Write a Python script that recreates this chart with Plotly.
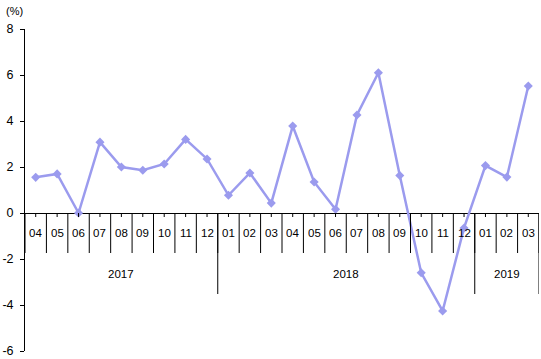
import plotly.graph_objects as go

months = ["04", "05", "06", "07", "08", "09", "10", "11", "12",
          "01", "02", "03", "04", "05", "06", "07", "08", "09", "10", "11", "12",
          "01", "02", "03"]
years = ["2017", "2018", "2019"]
year_counts = [9, 12, 3]
values = [1.55, 1.7, 0.0, 3.08, 2.0, 1.86, 2.13, 3.2, 2.35,
          0.77, 1.74, 0.43, 3.78, 1.35, 0.16, 4.26, 6.1, 1.63, -2.6, -4.26, -0.65,
          2.06, 1.56, 5.52]
y_ticks = [-6, -4, -2, 0, 2, 4, 6, 8]
y_tick_labels = ["-6", "-4", "-2", "0", "2", "4", "6", "8"]

FONT = "Arial, Liberation Sans, sans-serif"
x = list(range(len(months)))

fig = go.Figure()
fig.add_trace(go.Scatter(
    x=x, y=values, mode="lines+markers",
    line=dict(color="#9b9bee", width=2.5),
    marker=dict(symbol="diamond", size=7, color="#9b9bee"),
    hoverinfo="y", showlegend=False,
))

shapes = []
annotations = []
for i, m in enumerate(months):
    shapes.append(dict(type="line", xref="x", yref="y", x0=i, x1=i,
                       ysizemode="pixel", yanchor=0, y0=0, y1=-4,
                       line=dict(color="black", width=1)))
    annotations.append(dict(x=i, y=0, xref="x", yref="y", text=m, showarrow=False,
                            yshift=-20, yanchor="middle", xanchor="center",
                            font=dict(family=FONT, size=11.5, color="black")))
for i in range(len(months) + 1):
    shapes.append(dict(type="line", xref="x", yref="y", x0=i - 0.5, x1=i - 0.5,
                       ysizemode="pixel", yanchor=0, y0=0, y1=-40,
                       line=dict(color="black", width=1)))
start = 0
for yl, c in zip(years, year_counts):
    end = start + c
    shapes.append(dict(type="line", xref="x", yref="y", x0=end - 0.5, x1=end - 0.5,
                       ysizemode="pixel", yanchor=0, y0=0, y1=-81,
                       line=dict(color="black", width=1)))
    annotations.append(dict(x=(start + end - 1) / 2, y=0, xref="x", yref="y", text=yl,
                            showarrow=False, yshift=-61, yanchor="middle", xanchor="center",
                            font=dict(family=FONT, size=11.5, color="black")))
    start = end

annotations.append(dict(x=0, y=1, xref="paper", yref="paper", text="(%)", showarrow=False,
                        xanchor="left", yanchor="middle", xshift=-21, yshift=18,
                        font=dict(family=FONT, size=11, color="black")))

fig.update_layout(
    width=541, height=359,
    margin=dict(l=25, r=2, t=29, b=8, autoexpand=False),
    paper_bgcolor="white", plot_bgcolor="white",
    font=dict(family=FONT, size=11, color="black"),
    xaxis=dict(range=[-0.5, len(months) - 0.5], visible=False, automargin=False),
    yaxis=dict(range=[-6, 8], tickvals=y_ticks, ticktext=y_tick_labels, showgrid=False,
               automargin=False,
               showline=True, linecolor="black", linewidth=1,
               ticks="outside", ticklen=4, tickcolor="black",
               zeroline=True, zerolinecolor="black", zerolinewidth=1,
               ticklabelstandoff=4,
               tickfont=dict(family=FONT, size=12.5, color="black")),
    shapes=shapes,
    annotations=annotations,
)

fig.write_html("out.html", config={"displayModeBar": False},
               post_script="document.body.style.margin='0';document.body.style.padding='0';"
                           "document.body.style.overflow='hidden';")
